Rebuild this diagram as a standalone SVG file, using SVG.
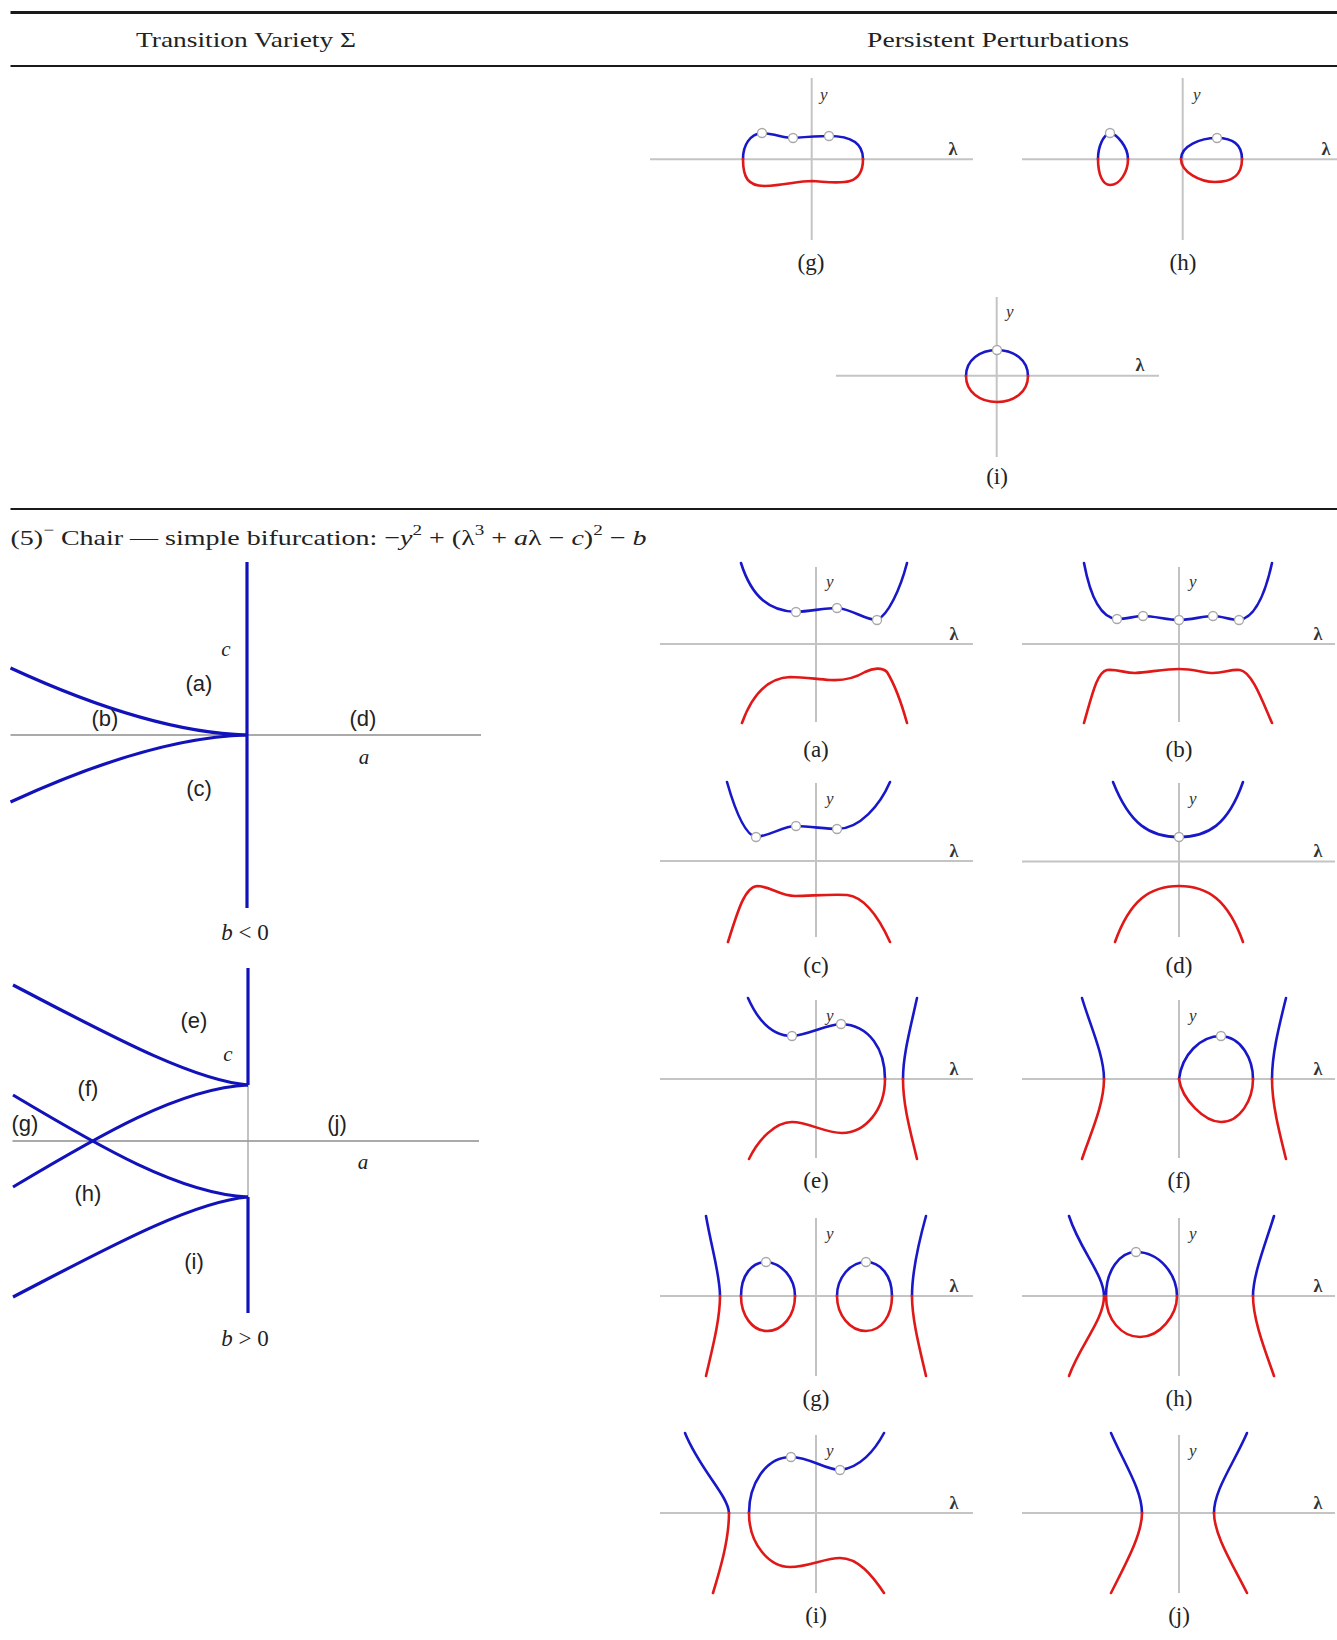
<svg xmlns="http://www.w3.org/2000/svg" width="1337" height="1640" viewBox="0 0 1337 1640">
<style>
.rule{stroke:#1a1a1a;fill:none}
.ax{stroke:#c4c4c4;stroke-width:2;fill:none}
.axv{stroke:#9a9a9a;stroke-width:1.2;fill:none}
.b{stroke:#1818c8;stroke-width:2.6;fill:none;stroke-linecap:round}
.r{stroke:#e01818;stroke-width:2.6;fill:none;stroke-linecap:round}
.pt{fill:#fff;stroke:#a8a8a8;stroke-width:1.3}
.cap{font-family:"Liberation Serif",serif;font-size:23px;text-anchor:middle;fill:#222}
.hd{font-family:"Liberation Serif",serif;font-size:22px;fill:#222}
.yl{font-family:"Liberation Serif",serif;font-style:italic;font-size:17px;fill:#333}
.ll{font-family:"Liberation Serif",serif;font-weight:bold;font-size:18px;fill:#333;text-anchor:middle}
.rl{font-family:"Liberation Sans",sans-serif;font-size:22px;fill:#222;text-anchor:middle}
.vl{font-family:"Liberation Serif",serif;font-style:italic;font-size:21px;fill:#222;text-anchor:middle}
.tb{stroke:#1212bb;stroke-width:3.2;fill:none}
.ta{stroke:#aaaaaa;stroke-width:2;fill:none}
.bl{font-family:"Liberation Serif",serif;font-size:23px;fill:#222;text-anchor:middle}
</style>
<rect width="1337" height="1640" fill="#fff"/>

<g id="header">
<line class="rule" x1="10.5" y1="12.5" x2="1337" y2="12.5" stroke-width="3"/>
<text class="hd" x="136" y="47" textLength="220" lengthAdjust="spacingAndGlyphs">Transition Variety Σ</text>
<text class="hd" x="867" y="47" textLength="262" lengthAdjust="spacingAndGlyphs">Persistent Perturbations</text>
<line class="rule" x1="10.5" y1="66" x2="1337" y2="66" stroke-width="2"/>
<line class="rule" x1="10.5" y1="509" x2="1337" y2="509" stroke-width="2"/>
</g>

<g id="connectors"></g>

<g id="top-g">
<line class="ax" x1="811.7" y1="78" x2="811.7" y2="240"/>
<line class="ax" x1="650" y1="159.3" x2="973" y2="159.3"/>
<text class="yl" x="820" y="100">y</text>
<text class="ll" x="953" y="155">λ</text>
<path class="b" d="M743,159 C743,145 750,134 762,133 C775,134 785,138 793,138 C805,137 818,136 829,136 C845,136 863,140 863,159"/>
<path class="r" d="M743,159 C743,178 748,186 765,186 C785,185 798,181 812,181 C828,182 840,184 850,181 C860,178 863,170 863,159"/>
<circle class="pt" cx="762" cy="133" r="4.5"/>
<circle class="pt" cx="793" cy="138" r="4.5"/>
<circle class="pt" cx="829" cy="136" r="4.5"/>
<text class="cap" x="811" y="270">(g)</text>
</g>

<g id="top-h">
<line class="ax" x1="1182.7" y1="78" x2="1182.7" y2="240"/>
<line class="ax" x1="1022" y1="159.3" x2="1337" y2="159.3"/>
<text class="yl" x="1193" y="100">y</text>
<text class="ll" x="1326" y="155">λ</text>
<path class="b" d="M1098,159 C1098,147 1103,135 1110,133 C1117,134 1128,147 1128,159"/>
<path class="r" d="M1098,159 C1098,175 1103,185 1110,185 C1120,185 1128,172 1128,159"/>
<path class="b" d="M1181,159 C1181,146 1200,138 1217,138 C1233,138 1242,145 1242,159"/>
<path class="r" d="M1181,159 C1181,172 1200,182 1215,182 C1233,182 1242,175 1242,159"/>
<circle class="pt" cx="1110" cy="133" r="4.5"/>
<circle class="pt" cx="1217" cy="138" r="4.5"/>
<text class="cap" x="1183" y="270">(h)</text>
</g>

<g id="top-i">
<line class="ax" x1="996.7" y1="297" x2="996.7" y2="457"/>
<line class="ax" x1="836" y1="375.7" x2="1159" y2="375.7"/>
<text class="yl" x="1006" y="317">y</text>
<text class="ll" x="1140" y="371">λ</text>
<path class="b" d="M966,376 C966,360 980,350 997,350 C1014,350 1028,360 1028,376"/>
<path class="r" d="M966,376 C966,392 980,402 997,402 C1014,402 1028,392 1028,376"/>
<circle class="pt" cx="997" cy="350" r="4.5"/>
<text class="cap" x="997" y="484">(i)</text>
</g>

<g id="section-title">
<text class="hd" x="10.5" y="545" font-size="24" textLength="636" lengthAdjust="spacingAndGlyphs">(5)<tspan font-size="15" dy="-10">−</tspan><tspan dy="10"> Chair — simple bifurcation: −</tspan><tspan font-style="italic">y</tspan><tspan font-size="15" dy="-10">2</tspan><tspan dy="10"> + (λ</tspan><tspan font-size="15" dy="-10">3</tspan><tspan dy="10"> + </tspan><tspan font-style="italic">a</tspan>λ − <tspan font-style="italic">c</tspan>)<tspan font-size="15" dy="-10">2</tspan><tspan dy="10"> − </tspan><tspan font-style="italic">b</tspan></text>
</g>

<g id="variety-bneg">
<line class="ta" x1="10.5" y1="735" x2="481" y2="735"/>
<line class="tb" x1="247" y1="562" x2="247" y2="908"/>
<path class="tb" d="M10.5,668 C80,700 170,733 247,735"/>
<path class="tb" d="M10.5,802 C80,770 170,737 247,735"/>
<text class="vl" x="226" y="656">c</text>
<text class="rl" x="199" y="691">(a)</text>
<text class="rl" x="105" y="726">(b)</text>
<text class="rl" x="363" y="726">(d)</text>
<text class="vl" x="364" y="764">a</text>
<text class="rl" x="199" y="796">(c)</text>
<text class="bl" x="245" y="940"><tspan font-style="italic">b</tspan> &lt; 0</text>
</g>

<g id="variety-bpos">
<line class="ta" x1="12.5" y1="1141" x2="479" y2="1141"/>
<line class="axv" x1="248" y1="1085" x2="248" y2="1197"/>
<line class="tb" x1="248" y1="968" x2="248" y2="1085"/>
<line class="tb" x1="248" y1="1197" x2="248" y2="1313"/>
<path class="tb" d="M13,985 C100,1030 190,1080 248,1085"/>
<path class="tb" d="M13,1187 C100,1135 180,1088 248,1085"/>
<path class="tb" d="M13,1095 C100,1147 180,1194 248,1197"/>
<path class="tb" d="M13,1297 C100,1252 190,1202 248,1197"/>
<text class="rl" x="194" y="1028">(e)</text>
<text class="vl" x="228" y="1061">c</text>
<text class="rl" x="88" y="1096">(f)</text>
<text class="rl" x="25" y="1131">(g)</text>
<text class="rl" x="337" y="1131">(j)</text>
<text class="vl" x="363" y="1169">a</text>
<text class="rl" x="88" y="1201">(h)</text>
<text class="rl" x="194" y="1269">(i)</text>
<text class="bl" x="245" y="1346"><tspan font-style="italic">b</tspan> &gt; 0</text>
</g>

<g id="pert-a">
<line class="axv" x1="816" y1="567" x2="816" y2="722"/>
<line class="ax" x1="660" y1="644" x2="973" y2="644"/>
<text class="yl" x="826" y="587">y</text>
<text class="ll" x="954" y="640">λ</text>
<path class="b" d="M741,563 C752,598 770,611 796,612 C812,611 825,608 837,608 C852,609 865,620 877,620 C888,615 900,590 907,563"/>
<path class="r" d="M742,723 C752,695 768,678 790,677 C805,677 815,679 830,680 C845,681 855,678 865,672 C873,668 882,667 887,672 C895,685 902,705 907,723"/>
<circle class="pt" cx="796" cy="612" r="4.5"/>
<circle class="pt" cx="837" cy="608" r="4.5"/>
<circle class="pt" cx="877" cy="620" r="4.5"/>
<text class="cap" x="816" y="757">(a)</text>
</g>

<g id="pert-b">
<line class="axv" x1="1179" y1="567" x2="1179" y2="722"/>
<line class="ax" x1="1022" y1="644" x2="1335" y2="644"/>
<text class="yl" x="1189" y="587">y</text>
<text class="ll" x="1318" y="640">λ</text>
<path class="b" d="M1084,563 C1090,595 1100,618 1117,619 C1127,619 1135,616 1143,616 C1155,616 1167,620 1179,620 C1191,620 1203,616 1213,616 C1222,616 1230,620 1239,620 C1255,618 1265,595 1272,563"/>
<path class="r" d="M1084,723 C1092,695 1097,672 1107,670 C1118,669 1124,673 1135,673 C1150,672 1165,669 1179,669 C1193,669 1205,673 1213,673 C1225,673 1230,669 1240,670 C1252,672 1262,700 1272,723"/>
<circle class="pt" cx="1117" cy="619" r="4.5"/>
<circle class="pt" cx="1143" cy="616" r="4.5"/>
<circle class="pt" cx="1179" cy="620" r="4.5"/>
<circle class="pt" cx="1213" cy="616" r="4.5"/>
<circle class="pt" cx="1239" cy="620" r="4.5"/>
<text class="cap" x="1179" y="757">(b)</text>
</g>

<g id="pert-c">
<line class="axv" x1="816" y1="783" x2="816" y2="937"/>
<line class="ax" x1="660" y1="861" x2="973" y2="861"/>
<text class="yl" x="826" y="804">y</text>
<text class="ll" x="954" y="857">λ</text>
<path class="b" d="M727,782 C735,810 745,835 756,837 C770,836 783,826 796,826 C810,826 825,829 837,829 C860,829 880,805 890,782"/>
<path class="r" d="M728,942 C738,910 745,887 757,886 C770,886 780,896 795,896 C810,896 830,894 847,895 C865,897 880,920 890,942"/>
<circle class="pt" cx="756" cy="837" r="4.5"/>
<circle class="pt" cx="796" cy="826" r="4.5"/>
<circle class="pt" cx="837" cy="829" r="4.5"/>
<text class="cap" x="816" y="973">(c)</text>
</g>

<g id="pert-d">
<line class="axv" x1="1179" y1="783" x2="1179" y2="937"/>
<line class="ax" x1="1022" y1="861.5" x2="1335" y2="861.5"/>
<text class="yl" x="1189" y="804">y</text>
<text class="ll" x="1318" y="857">λ</text>
<path class="b" d="M1113,782 C1130,825 1150,837 1179,837 C1208,837 1228,825 1243,782"/>
<path class="r" d="M1115,942 C1130,900 1150,886 1179,886 C1208,886 1228,900 1243,942"/>
<circle class="pt" cx="1179" cy="837" r="4.5"/>
<text class="cap" x="1179" y="973">(d)</text>
</g>

<g id="pert-e">
<line class="axv" x1="816" y1="1000" x2="816" y2="1158"/>
<line class="ax" x1="660" y1="1079" x2="973" y2="1079"/>
<text class="yl" x="826" y="1021">y</text>
<text class="ll" x="954" y="1075">λ</text>
<path class="b" d="M748,998 C760,1025 775,1036 792,1036 C808,1035 825,1025 841,1024 C870,1025 885,1050 885,1079"/>
<path class="r" d="M885,1079 C885,1110 865,1133 842,1133 C825,1133 808,1122 792,1122 C775,1122 758,1140 749,1159"/>
<path class="b" d="M917,998 C910,1030 903,1055 903,1079"/>
<path class="r" d="M903,1079 C903,1105 910,1130 917,1159"/>
<circle class="pt" cx="792" cy="1036" r="4.5"/>
<circle class="pt" cx="841" cy="1024" r="4.5"/>
<text class="cap" x="816" y="1188">(e)</text>
</g>

<g id="pert-f">
<line class="axv" x1="1179" y1="1000" x2="1179" y2="1158"/>
<line class="ax" x1="1022" y1="1079" x2="1335" y2="1079"/>
<text class="yl" x="1189" y="1021">y</text>
<text class="ll" x="1318" y="1075">λ</text>
<path class="b" d="M1082,998 C1090,1025 1104,1055 1104,1079"/>
<path class="r" d="M1104,1079 C1104,1105 1090,1135 1082,1159"/>
<path class="b" d="M1179,1079 C1182,1055 1200,1036 1221,1036 C1242,1037 1253,1060 1253,1079"/>
<path class="r" d="M1179,1079 C1182,1100 1205,1122 1221,1122 C1240,1122 1253,1100 1253,1079"/>
<path class="b" d="M1286,998 C1278,1030 1272,1055 1272,1079"/>
<path class="r" d="M1272,1079 C1272,1105 1280,1135 1286,1159"/>
<circle class="pt" cx="1221" cy="1036" r="4.5"/>
<text class="cap" x="1179" y="1188">(f)</text>
</g>

<g id="pert-g">
<line class="axv" x1="816" y1="1218" x2="816" y2="1376"/>
<line class="ax" x1="660" y1="1296" x2="973" y2="1296"/>
<text class="yl" x="826" y="1239">y</text>
<text class="ll" x="954" y="1292">λ</text>
<path class="b" d="M706,1216 C712,1250 720,1275 720,1296"/>
<path class="r" d="M720,1296 C720,1320 712,1350 706,1376"/>
<path class="b" d="M741,1296 C741,1275 752,1262 766,1262 C782,1263 795,1278 795,1296"/>
<path class="r" d="M741,1296 C741,1315 752,1331 767,1331 C783,1331 795,1315 795,1296"/>
<path class="b" d="M837,1296 C837,1278 850,1262 866,1262 C880,1262 892,1275 892,1296"/>
<path class="r" d="M837,1296 C837,1315 850,1331 866,1331 C882,1331 892,1315 892,1296"/>
<path class="b" d="M926,1216 C918,1245 912,1275 912,1296"/>
<path class="r" d="M912,1296 C912,1320 920,1350 926,1376"/>
<circle class="pt" cx="766" cy="1262" r="4.5"/>
<circle class="pt" cx="866" cy="1262" r="4.5"/>
<text class="cap" x="816" y="1406">(g)</text>
</g>

<g id="pert-h">
<line class="axv" x1="1179" y1="1218" x2="1179" y2="1376"/>
<line class="ax" x1="1022" y1="1296" x2="1335" y2="1296"/>
<text class="yl" x="1189" y="1239">y</text>
<text class="ll" x="1318" y="1292">λ</text>
<path class="b" d="M1069,1216 C1080,1250 1104,1275 1104,1296"/>
<path class="r" d="M1104,1296 C1104,1320 1080,1345 1069,1376"/>
<path class="b" d="M1106,1296 C1106,1270 1120,1252 1136,1252 C1160,1252 1177,1275 1177,1296"/>
<path class="r" d="M1106,1296 C1106,1320 1122,1337 1140,1337 C1160,1337 1177,1315 1177,1296"/>
<path class="b" d="M1274,1216 C1265,1245 1253,1275 1253,1296"/>
<path class="r" d="M1253,1296 C1253,1320 1265,1350 1274,1376"/>
<circle class="pt" cx="1136" cy="1252" r="4.5"/>
<text class="cap" x="1179" y="1406">(h)</text>
</g>

<g id="pert-i">
<line class="axv" x1="816" y1="1435" x2="816" y2="1593"/>
<line class="ax" x1="660" y1="1513" x2="973" y2="1513"/>
<text class="yl" x="826" y="1456">y</text>
<text class="ll" x="954" y="1509">λ</text>
<path class="b" d="M685,1433 C700,1470 728,1495 729,1513"/>
<path class="r" d="M729,1513 C729,1540 720,1570 713,1593"/>
<path class="b" d="M749,1513 C749,1485 765,1457 791,1457 C810,1457 825,1470 840,1470 C860,1468 875,1450 884,1433"/>
<path class="r" d="M749,1513 C749,1545 770,1567 790,1567 C808,1567 825,1558 840,1558 C858,1558 872,1575 884,1593"/>
<circle class="pt" cx="791" cy="1457" r="4.5"/>
<circle class="pt" cx="840" cy="1470" r="4.5"/>
<text class="cap" x="816" y="1623">(i)</text>
</g>

<g id="pert-j">
<line class="axv" x1="1179" y1="1435" x2="1179" y2="1593"/>
<line class="ax" x1="1022" y1="1513" x2="1335" y2="1513"/>
<text class="yl" x="1189" y="1456">y</text>
<text class="ll" x="1318" y="1509">λ</text>
<path class="b" d="M1111,1433 C1125,1465 1142,1490 1142,1513"/>
<path class="r" d="M1142,1513 C1142,1535 1125,1565 1111,1593"/>
<path class="b" d="M1247,1433 C1233,1465 1214,1490 1214,1513"/>
<path class="r" d="M1214,1513 C1214,1535 1233,1565 1247,1593"/>
<text class="cap" x="1179" y="1623">(j)</text>
</g>
</svg>
